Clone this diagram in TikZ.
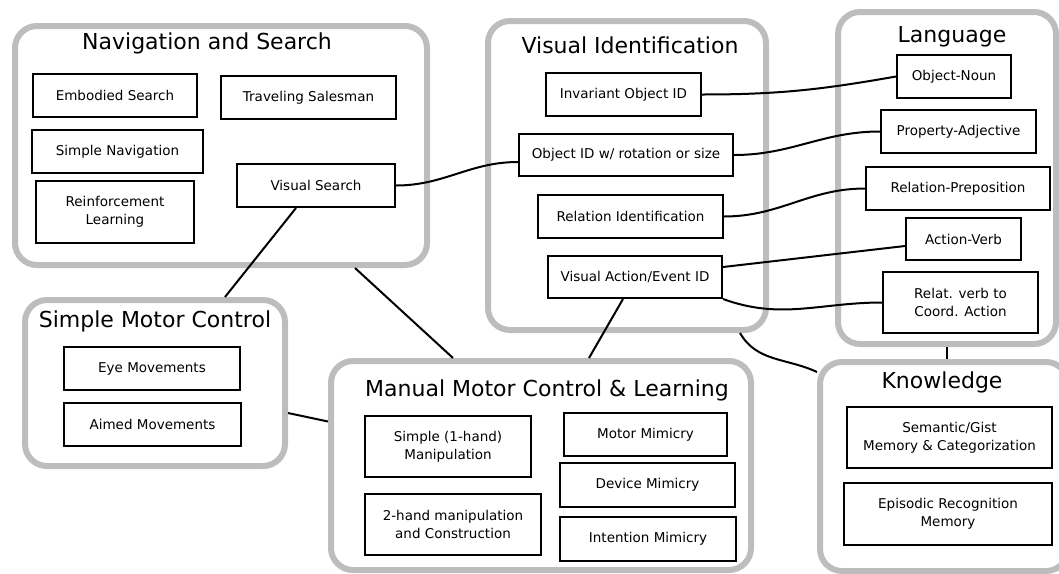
\documentclass[tikz,border=0pt]{standalone}
\usepackage{fontspec}
\setmainfont{DejaVu Sans}
\usepackage{tikz}
\usetikzlibrary{positioning, arrows}
\usetikzlibrary{calc}

\definecolor{groupgray}{gray}{0.74}

\begin{document}
\begin{tikzpicture}[x=1pt, y=-1pt,
    group/.style={draw=groupgray, line width=6pt, rounded corners=22pt, fill=white, inner sep=0pt},
    title/.style={font=\fontsize{22}{26}\selectfont},
    item/.style={draw, line width=2pt, fill=white, inner sep=0pt, align=center, font=\fontsize{13.5}{18}\selectfont},
    conn/.style={line width=2pt}]
    \useasboundingbox (0,0) rectangle (1059,573);

    \node[group, minimum width=412pt, minimum height=239pt] (nav)  at (221,145.5) {};
    \node[group, minimum width=278pt, minimum height=309pt] (vis)  at (627,175.5) {};
    \node[group, minimum width=218pt, minimum height=332pt] (lang) at (947,178) {};
    \node[group, minimum width=260pt, minimum height=166pt] (smc)  at (155,383) {};
    \node[group, minimum width=420pt, minimum height=209pt] (mmc)  at (541,465.5) {};
    \node[group, minimum width=248pt, minimum height=209pt] (know) at (944,466.5) {};

    \node[title] (navtitle)  at (207,43)  {Navigation and Search};
    \node[title] (vistitle)  at (630,45)  {Visual Identification};
    \node[title] (langtitle) at (952,37)  {Language};
    \node[title] (smctitle)  at (155,321) {Simple Motor Control};
    \node[title] (mmctitle)  at (547,390) {Manual Motor Control \& Learning};
    \node[title] (knowtitle) at (942,382) {Knowledge};

    \node[item, minimum width=164pt, minimum height=43pt] (embodied)  at (115,95.5)  {Embodied Search};
    \node[item, minimum width=175pt, minimum height=43pt] (salesman)  at (308.5,97.5) {Traveling Salesman};
    \node[item, minimum width=171pt, minimum height=43pt] (simplenav) at (117.5,151.5) {Simple Navigation};
    \node[item, minimum width=158pt, minimum height=62pt] (reinf)     at (115,212)   {Reinforcement\\Learning};
    \node[item, minimum width=158pt, minimum height=43pt] (vsearch)   at (316,185.5) {Visual Search};

    \node[item, minimum width=155pt, minimum height=43pt] (inv)    at (623.5,94.5) {Invariant Object ID};
    \node[item, minimum width=214pt, minimum height=42pt] (objrot) at (626,155)    {Object ID w/ rotation or size};
    \node[item, minimum width=185pt, minimum height=43pt] (relid)  at (630.5,216.5) {Relation Identification};
    \node[item, minimum width=174pt, minimum height=42pt] (vaid)   at (635,277)    {Visual Action/Event ID};

    \node[item, minimum width=114pt, minimum height=43pt] (noun)  at (954,76.5)   {Object-Noun};
    \node[item, minimum width=155pt, minimum height=43pt] (adj)   at (958.5,131.5) {Property-Adjective};
    \node[item, minimum width=184pt, minimum height=43pt] (prep)  at (958,188.5)  {Relation-Preposition};
    \node[item, minimum width=115pt, minimum height=42pt] (verb)  at (963.5,239)  {Action-Verb};
    \node[item, minimum width=155pt, minimum height=61pt] (coord) at (960.5,302.5) {Relat. verb to\\Coord. Action};

    \node[item, minimum width=176pt, minimum height=43pt] (eye)   at (152,368.5) {Eye Movements};
    \node[item, minimum width=177pt, minimum height=43pt] (aimed) at (152.5,424.5) {Aimed Movements};

    \node[item, minimum width=166pt, minimum height=61pt] (onehand)  at (448,446.5) {Simple (1-hand)\\Manipulation};
    \node[item, minimum width=176pt, minimum height=61pt] (twohand)  at (453,524.5) {2-hand manipulation\\and Construction};
    \node[item, minimum width=163pt, minimum height=43pt] (motormim) at (645.5,434.5) {Motor Mimicry};
    \node[item, minimum width=175pt, minimum height=44pt] (devmim)   at (647.5,485)  {Device Mimicry};
    \node[item, minimum width=176pt, minimum height=44pt] (intmim)   at (648,539)    {Intention Mimicry};

    \node[item, minimum width=205pt, minimum height=61pt] (semantic) at (949.5,437.5) {Semantic/Gist\\Memory \& Categorization};
    \node[item, minimum width=208pt, minimum height=62pt] (episodic) at (948,514)    {Episodic Recognition\\Memory};

    \path[conn]
    (vsearch.east) edge [out=0, in=180] ([yshift=-7pt]objrot.west)
    (inv.east) edge [out=0, in=190] (noun.west)
    (objrot.east) edge [out=0, in=180] (adj.west)
    (relid.east) edge [out=0, in=180] (prep.west)
    ([yshift=10pt]vaid.east) edge ([yshift=-7pt]verb.west)
    (vaid.south east) edge [out=-20, in=180] (coord.west)
    ([xshift=-20pt]vsearch.south) edge ([xshift=70pt]smc.north)
    ([xshift=134pt]nav.south) edge ([xshift=-88pt]mmc.north)
    ([xshift=-12pt]vaid.south) edge ([xshift=48pt]mmc.north)
    ([yshift=-30pt]smc.east) edge ([yshift=44pt]mmc.west)
    ([xshift=113pt]vis.south) edge [out=-60, in=155] ([yshift=-13pt]know.north west)
    (lang.south) edge (lang.south |- know.north);
\end{tikzpicture}
\end{document}
